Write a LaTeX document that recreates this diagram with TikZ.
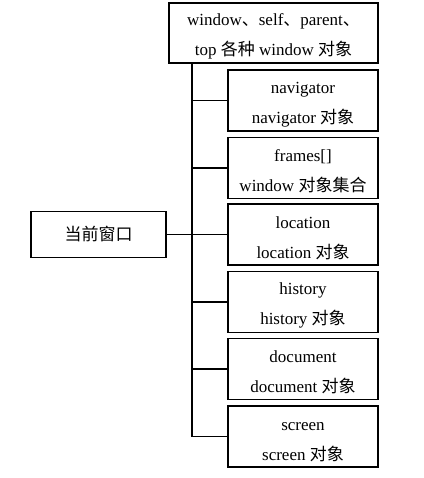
\documentclass[tikz,border=0pt]{standalone}
\usepackage{fontspec}
\setmainfont{Liberation Serif}
\newfontfamily\cjk{Noto Sans CJK SC}
\newcommand\upline{\rule{0pt}{19pt}}
\begin{document}
\begin{tikzpicture}[x=1pt,y=-1pt,
  box/.style={draw,line width=1.6pt,align=center,inner sep=0pt,
    font=\fontsize{17}{30}\selectfont},
  sub/.style={box,minimum width=150pt,minimum height=61pt},
  conn/.style={line width=1.1pt}]
\useasboundingbox (0,0) rectangle (423,478);
\node[box,minimum width=209pt,minimum height=60pt] (top) at (273.5,33)
  {\upline window{\cjk 、}self{\cjk 、}parent{\cjk 、}\\top {\cjk 各种} window {\cjk 对象}};
\node[sub] (nav) at (303,100.5) {\upline navigator\\navigator {\cjk 对象}};
\node[sub] (frm) at (303,168) {\upline frames[]\\window {\cjk 对象集合}};
\node[sub] (loc) at (303,234.5) {\upline location\\location {\cjk 对象}};
\node[sub] (his) at (303,302) {\upline history\\history {\cjk 对象}};
\node[sub] (doc) at (303,369) {\upline document\\document {\cjk 对象}};
\node[sub] (scr) at (303,436.5) {\upline screen\\screen {\cjk 对象}};
\node[box,minimum width=135pt,minimum height=46pt] (cur) at (98.5,234.5) {\cjk 当前窗口};
\coordinate (bus) at (192,0);
\draw[conn] (top.south -| bus) -- (bus |- scr.west);
\foreach \n in {nav,frm,his,doc,scr}
  \draw[conn] (bus |- \n.west) -- (\n.west);
\draw[conn] (cur.east) -- (loc.west);
\end{tikzpicture}
\end{document}
